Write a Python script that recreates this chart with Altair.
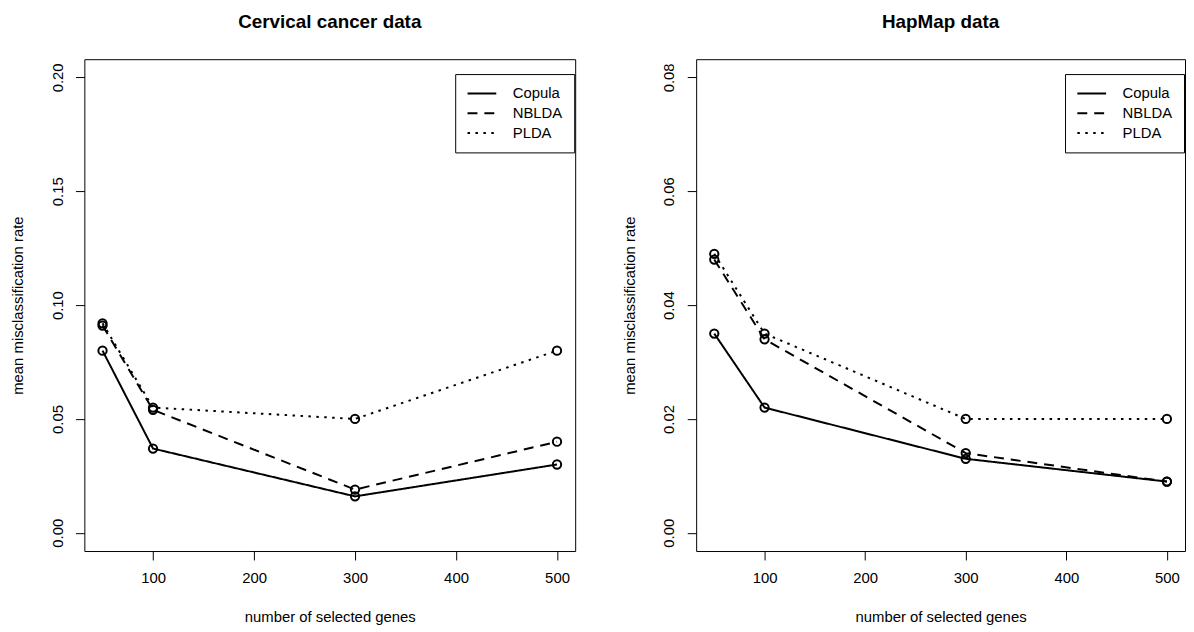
import altair as alt
import pandas as pd

# ---- data ----
genes = [50, 100, 300, 500]
methods = ["Copula", "NBLDA", "PLDA"]

cervical_copula = [0.080, 0.037, 0.016, 0.030]
cervical_nblda = [0.091, 0.054, 0.019, 0.040]
cervical_plda = [0.092, 0.055, 0.050, 0.080]

hapmap_copula = [0.035, 0.022, 0.013, 0.009]
hapmap_nblda = [0.048, 0.034, 0.014, 0.009]
hapmap_plda = [0.049, 0.035, 0.020, 0.020]

x_ticks = [100, 200, 300, 400, 500]
cervical_y_ticks = [0.0, 0.05, 0.10, 0.15, 0.20]
hapmap_y_ticks = [0.0, 0.02, 0.04, 0.06, 0.08]

FONT = "Liberation Sans"
dash_range = [[1, 0], [10, 7], [2.5, 5.5]]


def long_frame(series):
    rows = []
    for m, vals in zip(methods, series):
        for g, v in zip(genes, vals):
            rows.append({"genes": g, "rate": v, "method": m})
    return pd.DataFrame(rows)


def panel(title, series, yticks, ymax, width):
    df = long_frame(series)
    ext = ymax * 0.04
    xscale = alt.Scale(domain=[32, 518], nice=False, zero=False)
    yscale = alt.Scale(domain=[-ext, ymax + ext], nice=False, zero=False)
    xaxis = alt.Axis(values=x_ticks, title="number of selected genes", tickSize=9,
                     tickColor="black", tickWidth=1, domain=False, grid=False,
                     labelFont=FONT, labelFontSize=15, labelColor="black",
                     labelPadding=10.5, labelFlush=False, labelOverlap=False,
                     titleFont=FONT, titleFontSize=15, titleFontWeight="normal",
                     titleColor="black", titlePadding=25)
    yaxis = alt.Axis(values=yticks, format=".2f", title="mean misclassification rate",
                     tickSize=9, tickColor="black", tickWidth=1, domain=False, grid=False,
                     labelFont=FONT, labelFontSize=15, labelColor="black",
                     labelAngle=270, labelAlign="center", labelBaseline="bottom",
                     labelPadding=10.4, labelFlush=False, labelOverlap=False,
                     titleFont=FONT, titleFontSize=15, titleFontWeight="normal",
                     titleColor="black", titlePadding=24.6)
    base = alt.Chart(df)
    lines = base.mark_line(color="black", strokeWidth=2).encode(
        x=alt.X("genes:Q", scale=xscale, axis=xaxis),
        y=alt.Y("rate:Q", scale=yscale, axis=yaxis),
        strokeDash=alt.StrokeDash(
            "method:N",
            scale=alt.Scale(domain=methods, range=dash_range),
            legend=alt.Legend(title=None, orient="none", legendX=width - 121, legendY=15,
                              strokeColor="black", fillColor="white", padding=11,
                              cornerRadius=0, symbolType="M-1,0H3.1", symbolSize=200,
                              symbolStrokeWidth=2, symbolStrokeColor="black",
                              symbolFillColor="transparent", labelFont=FONT,
                              labelFontSize=15, labelColor="black", labelOffset=30,
                              rowPadding=3),
        ),
        detail="method:N",
    )
    points = base.mark_point(shape="circle", filled=False, color="black",
                             size=70, strokeWidth=2, opacity=1).encode(
        x=alt.X("genes:Q", scale=xscale),
        y=alt.Y("rate:Q", scale=yscale),
    )
    return alt.layer(lines, points).properties(
        width=width, height=496,
        title=alt.TitleParams(title, font=FONT, fontSize=19, fontWeight="bold",
                              color="black", anchor="middle", offset=27),
    )


left = panel("Cervical cancer data", [cervical_copula, cervical_nblda, cervical_plda],
             cervical_y_ticks, 0.20, 495)
right = panel("HapMap data", [hapmap_copula, hapmap_nblda, hapmap_plda],
              hapmap_y_ticks, 0.08, 493)

chart = alt.hconcat(left, right, spacing=46).resolve_scale(
    y="independent", strokeDash="independent"
).resolve_legend(strokeDash="independent").properties(
    padding={"left": 2, "top": 2, "right": 0, "bottom": 0},
    background="white",
).configure_view(stroke="black", strokeWidth=1)

chart.save("out.html", embed_options={"renderer": "svg", "actions": False})
